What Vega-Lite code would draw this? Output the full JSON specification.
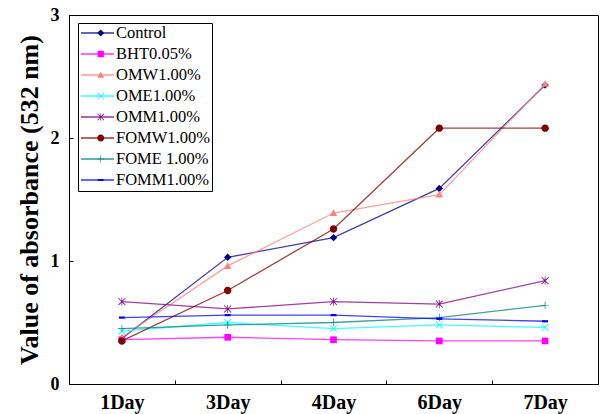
{
  "$schema": "https://vega.github.io/schema/vega-lite/v6.json",
  "width": 529,
  "height": 369,
  "autosize": {"type": "none"},
  "padding": {"left": 69, "top": 15, "right": 2, "bottom": 30},
  "background": "white",
  "config": {
    "view": {"stroke": "black", "strokeWidth": 1},
    "axis": {"grid": false, "domainColor": "black", "tickColor": "black", "labelColor": "black", "titleColor": "black", "labelFont": "Liberation Serif", "titleFont": "Liberation Serif", "labelFontWeight": "bold", "titleFontWeight": "bold"},
    "legend": {"labelFont": "Times New Roman", "labelFontSize": 16.5, "labelColor": "black", "labelFontWeight": "normal"}
  },
  "resolve": {"legend": {"color": "independent", "fill": "independent", "shape": "independent"}},
  "data": {
    "values": [
      {"day": "1Day", "series": "Control", "value": 0.37},
      {"day": "3Day", "series": "Control", "value": 1.03},
      {"day": "4Day", "series": "Control", "value": 1.19},
      {"day": "6Day", "series": "Control", "value": 1.59},
      {"day": "7Day", "series": "Control", "value": 2.43},
      {"day": "1Day", "series": "BHT0.05%", "value": 0.36},
      {"day": "3Day", "series": "BHT0.05%", "value": 0.38},
      {"day": "4Day", "series": "BHT0.05%", "value": 0.36},
      {"day": "6Day", "series": "BHT0.05%", "value": 0.35},
      {"day": "7Day", "series": "BHT0.05%", "value": 0.35},
      {"day": "1Day", "series": "OMW1.00%", "value": 0.38},
      {"day": "3Day", "series": "OMW1.00%", "value": 0.96},
      {"day": "4Day", "series": "OMW1.00%", "value": 1.39},
      {"day": "6Day", "series": "OMW1.00%", "value": 1.54},
      {"day": "7Day", "series": "OMW1.00%", "value": 2.44},
      {"day": "1Day", "series": "OME1.00%", "value": 0.43},
      {"day": "3Day", "series": "OME1.00%", "value": 0.5},
      {"day": "4Day", "series": "OME1.00%", "value": 0.45},
      {"day": "6Day", "series": "OME1.00%", "value": 0.48},
      {"day": "7Day", "series": "OME1.00%", "value": 0.46},
      {"day": "1Day", "series": "OMM1.00%", "value": 0.67},
      {"day": "3Day", "series": "OMM1.00%", "value": 0.61},
      {"day": "4Day", "series": "OMM1.00%", "value": 0.67},
      {"day": "6Day", "series": "OMM1.00%", "value": 0.65},
      {"day": "7Day", "series": "OMM1.00%", "value": 0.84},
      {"day": "1Day", "series": "FOMW1.00%", "value": 0.35},
      {"day": "3Day", "series": "FOMW1.00%", "value": 0.76},
      {"day": "4Day", "series": "FOMW1.00%", "value": 1.26},
      {"day": "6Day", "series": "FOMW1.00%", "value": 2.08},
      {"day": "7Day", "series": "FOMW1.00%", "value": 2.08},
      {"day": "1Day", "series": "FOME 1.00%", "value": 0.45},
      {"day": "3Day", "series": "FOME 1.00%", "value": 0.48},
      {"day": "4Day", "series": "FOME 1.00%", "value": 0.5},
      {"day": "6Day", "series": "FOME 1.00%", "value": 0.54},
      {"day": "7Day", "series": "FOME 1.00%", "value": 0.64},
      {"day": "1Day", "series": "FOMM1.00%", "value": 0.54},
      {"day": "3Day", "series": "FOMM1.00%", "value": 0.56},
      {"day": "4Day", "series": "FOMM1.00%", "value": 0.56},
      {"day": "6Day", "series": "FOMM1.00%", "value": 0.53},
      {"day": "7Day", "series": "FOMM1.00%", "value": 0.51}
    ]
  },
  "encoding": {
    "x": {
      "field": "day", "type": "ordinal", "sort": ["1Day", "3Day", "4Day", "6Day", "7Day"],
      "bandPosition": 0.5,
      "scale": {"type": "band", "paddingInner": 0, "paddingOuter": 0},
      "axis": {"title": null, "labelAngle": 0, "tickBand": "extent", "tickSize": -4, "labelFontSize": 20, "labelPadding": 12}
    },
    "y": {
      "field": "value", "type": "quantitative",
      "scale": {"domain": [0, 3], "nice": false},
      "axis": {"values": [0, 1, 2, 3], "tickSize": -4, "labelFontSize": 18, "labelPadding": 14, "title": "Value of absorbance (532 nm)", "titleFontSize": 26, "titlePadding": 8}
    }
  },
  "layer": [
    {
      "mark": {"type": "line", "strokeWidth": 1.3, "opacity": 0.75},
      "encoding": {
        "color": {
          "field": "series", "type": "nominal",
          "scale": {
            "domain": ["Control", "BHT0.05%", "OMW1.00%", "OME1.00%", "OMM1.00%", "FOMW1.00%", "FOME 1.00%", "FOMM1.00%"],
            "range": ["#000080", "#ff00ff", "#ff8080", "#00ffff", "#800080", "#800000", "#008080", "#0000ff"]
          },
          "legend": {
            "title": null, "orient": "none", "legendX": 9, "legendY": 8,
            "strokeColor": "black", "padding": 2,
            "labelFont": "Times New Roman", "labelFontSize": 16.5, "labelColor": "black",
            "rowPadding": 4, "clipHeight": 16, "symbolType": "stroke", "symbolSize": 1089, "symbolStrokeWidth": 1.3, "symbolOpacity": 0.8, "labelOffset": 1
          }
        }
      }
    },
    {
      "mark": {"type": "point", "filled": true, "size": 55, "opacity": 1, "strokeWidth": 0},
      "encoding": {
        "fill": {
          "field": "series", "type": "nominal",
          "scale": {
            "domain": ["Control", "BHT0.05%", "OMW1.00%", "OME1.00%", "OMM1.00%", "FOMW1.00%", "FOME 1.00%", "FOMM1.00%"],
            "range": ["#000080", "#ff00ff", "#ff8080", "#00ffff", "#800080", "#800000", "#008080", "#0000ff"]
          },
          "legend": {
            "title": null, "orient": "none", "legendX": 21.5, "legendY": 8,
            "padding": 2, "labelExpr": "''",
            "labelFont": "Times New Roman", "labelFontSize": 16.5, "labelColor": "transparent",
            "rowPadding": 4, "clipHeight": 16, "symbolSize": 49, "symbolStrokeWidth": 0, "labelOffset": 1
          }
        },
        "shape": {
          "field": "series", "type": "nominal",
          "scale": {
            "domain": ["Control", "BHT0.05%", "OMW1.00%", "OME1.00%", "OMM1.00%", "FOMW1.00%", "FOME 1.00%", "FOMM1.00%"],
            "range": [
              "M0,-1L1,0L0,1L-1,0Z",
              "M-0.9,-0.9L0.9,-0.9L0.9,0.9L-0.9,0.9Z",
              "M0,-1L1,0.8L-1,0.8Z",
              "M-1,-0.85L-0.85,-1L0,-0.15L0.85,-1L1,-0.85L0.15,0L1,0.85L0.85,1L0,0.15L-0.85,1L-1,0.85L-0.15,0Z",
              "M-1,-0.85L-0.85,-1L0,-0.15L0.85,-1L1,-0.85L0.15,0L1,0.85L0.85,1L0,0.15L-0.85,1L-1,0.85L-0.15,0ZM-0.09,-1.1L0.09,-1.1L0.09,1.1L-0.09,1.1Z",
              "M-1,0A1,1 0 1,0 1,0A1,1 0 1,0 -1,0Z",
              "M-0.09,-1L0.09,-1L0.09,-0.09L1,-0.09L1,0.09L0.09,0.09L0.09,1L-0.09,1L-0.09,0.09L-1,0.09L-1,-0.09L-0.09,-0.09Z",
              "M-0.8,-0.3L0.8,-0.3L0.8,0.3L-0.8,0.3Z"
            ]
          },
          "legend": {
            "title": null, "orient": "none", "legendX": 21.5, "legendY": 8,
            "padding": 2, "labelExpr": "''",
            "labelFont": "Times New Roman", "labelFontSize": 16.5, "labelColor": "transparent",
            "rowPadding": 4, "clipHeight": 16, "symbolSize": 49, "symbolStrokeWidth": 0, "labelOffset": 1
          }
        }
      }
    }
  ]
}
